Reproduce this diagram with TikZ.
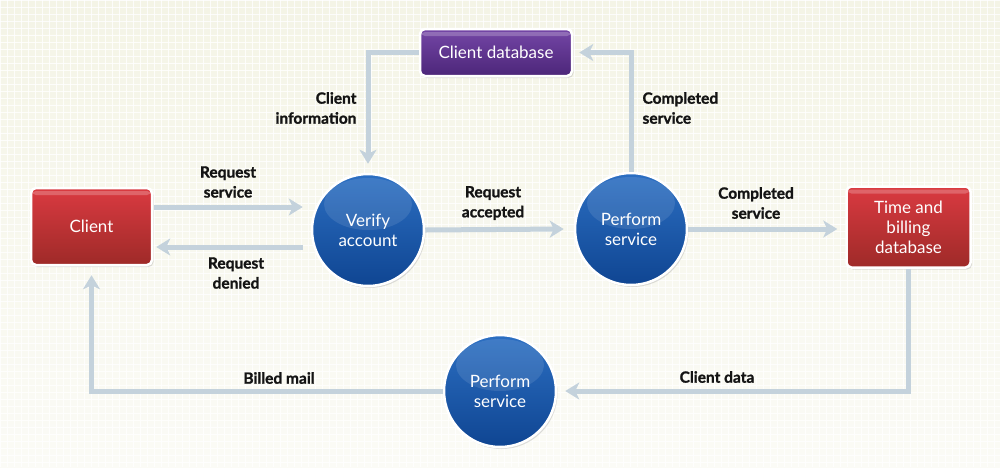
\documentclass[tikz,border=0pt]{standalone}
\usepackage{fontspec}
\setmainfont{Lato}
\newfontfamily\lblfont{Lato}[BoldFeatures={FakeBold=1.2}]
\usetikzlibrary{arrows.meta,shadows,calc}
\definecolor{bgtop}{HTML}{F4F4E6}
\definecolor{bgbot}{HTML}{FBFBF6}
\definecolor{arr}{HTML}{C4D2DC}
\definecolor{redT}{HTML}{DA3A41}
\definecolor{redB}{HTML}{9E2A28}
\definecolor{purT}{HTML}{7446A6}
\definecolor{purB}{HTML}{4C2679}
\definecolor{bluT}{HTML}{2C6FC2}
\definecolor{bluB}{HTML}{0F4592}
\begin{document}
\begin{tikzpicture}[x=1pt,y=-1pt,
  boxbase/.style={draw=white, line width=2.5pt, rounded corners=5pt, text=white,
    font=\fontsize{17}{20}\selectfont, align=center,
    drop shadow={opacity=0.25, shadow xshift=1.5pt, shadow yshift=-2pt},
    path picture={\fill[white,opacity=0.22] ([yshift=-3pt]path picture bounding box.north west) rectangle ([yshift=-7pt]path picture bounding box.north east);}},
  redbox/.style={boxbase, top color=redT, bottom color=redB},
  purplebox/.style={boxbase, top color=purT, bottom color=purB},
  bluecirc/.style={circle, draw=white, line width=2.5pt, minimum size=112pt, inner sep=0pt,
    top color=bluT, bottom color=bluB, text=white, align=center,
    font=\fontsize{17}{20}\selectfont,
    drop shadow={opacity=0.25, shadow xshift=1.5pt, shadow yshift=-2pt},
    path picture={\fill[white,opacity=0.10] ([yshift=-30pt]path picture bounding box.north) ellipse [x radius=44pt, y radius=26pt];}},
  conn/.style={draw=arr, line width=5pt, -{Stealth[length=14pt,width=17pt,inset=4pt]}},
  lbl/.style={font=\lblfont\bfseries\fontsize{15.5}{20}\selectfont, text=black!92}
]
\useasboundingbox (0,0) rectangle (1000,467);
% background
\fill[top color=bgtop, bottom color=bgbot] (0,0) rectangle (1000,467);
\foreach \i in {0,7,...,1000} \draw[white, line width=0.8pt, opacity=0.8] (\i,0) -- (\i,467);
\foreach \j in {0,7,...,467} \draw[white, line width=0.8pt, opacity=0.8] (0,\j) -- (1000,\j);

% nodes
\node[redbox, minimum width=121pt, minimum height=77pt] (client) at (91.5,226.5) {Client};
\node[redbox, minimum width=124pt, minimum height=81pt] (tbd) at (908.5,227) {Time and\\billing\\database};
\node[purplebox, minimum width=152pt, minimum height=47pt] (cdb) at (496,52.5) {Client database};
\node[bluecirc] (verify) at (368,230) {Verify\\account};
\node[bluecirc] (perf1) at (631,229) {Perform\\service};
\node[bluecirc] (perf2) at (500,391) {Perform\\service};

% helper coordinates
\coordinate (rs) at ($(client.east)+(1,-19.5)$);
\coordinate (rd) at ($(client.east)+(3,20.5)$);

% connectors
\draw[conn] (rs) -- ([xshift=-8pt]verify.west |- rs);
\draw[conn] ([xshift=-8pt]verify.west |- rd) -- (rd);
\draw[conn] (verify.east) -- ([xshift=-10pt]perf1.west);
\draw[conn] (perf1.east) -- ([xshift=-8pt]tbd.west |- perf1.east);
\draw[conn] (perf1.north) -- (perf1.north |- cdb.east) -- ([xshift=6pt]cdb.east);
\draw[conn] (cdb.west) -- (cdb.west -| verify.north) -- ([yshift=9pt]verify.north);
\draw[conn] (tbd.south) -- (tbd.south |- perf2.east) -- ([xshift=8pt]perf2.east);
\draw[conn] (perf2.west) -- (perf2.west -| client.south) -- ([yshift=-9pt]client.south);

% labels
\node[lbl, align=center] (l1) at (228,182) {Request\\service};
\node[lbl, align=center] (l2) at (236,273) {Request\\denied};
\node[lbl, align=right, anchor=east] (l3) at (360,108) {Client\\information};
\node[lbl, align=left, anchor=west] (l4) at (639,108) {Completed\\service};
\node[lbl, align=center] (l5) at (493,203) {Request\\accepted};
\node[lbl, align=center] (l6) at (756,203) {Completed\\service};
\node[lbl] (l7) at (279,378) {Billed mail};
\node[lbl] (l8) at (717,377) {Client data};
\end{tikzpicture}
\end{document}
